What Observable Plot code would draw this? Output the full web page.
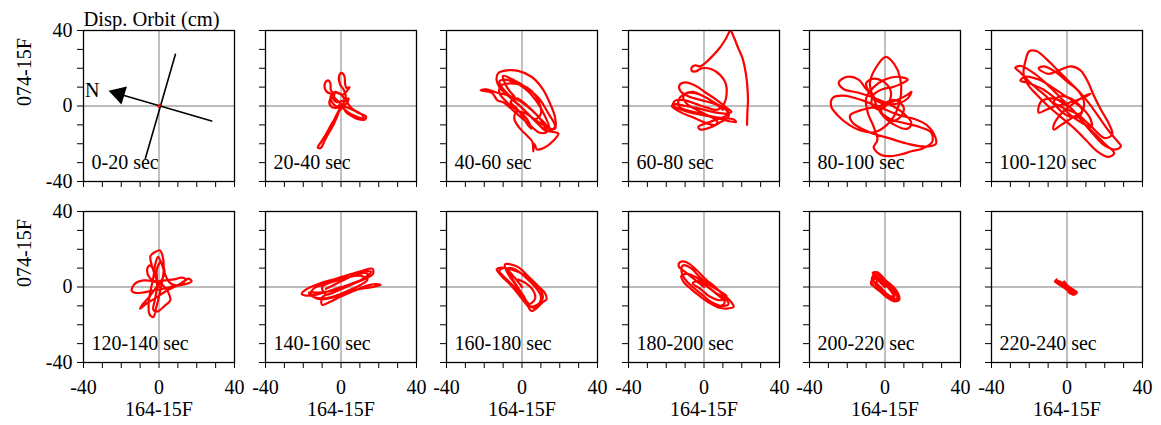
<!DOCTYPE html>
<html><head><meta charset="utf-8">
<script src="https://cdn.jsdelivr.net/npm/d3@7"></script>
<script src="https://cdn.jsdelivr.net/npm/@observablehq/plot@0.6"></script>
<style>
html,body{margin:0;padding:0;background:#fff;overflow:hidden}
#chart{position:relative;width:1161px;height:425px;background:#fff}
#chart svg{position:absolute}
</style></head><body><div id="chart"></div>
<script>
// ---- data ----
const periods = ["0-20 sec","20-40 sec","40-60 sec","60-80 sec","80-100 sec","100-120 sec",
                 "120-140 sec","140-160 sec","160-180 sec","180-200 sec","200-220 sec","220-240 sec"];
const xLabel = "164-15F";
const yLabel = "074-15F";
const title = "Disp. Orbit (cm)";
const tickValues = [-40,-30,-20,-10,0,10,20,30,40];
const labeledTicks = [-40,0,40];

const orbit_000_020 = [[0,0],[0.4,0.5],[-0.3,-0.4],[0.2,-0.2],[0,0]];
const orbit_020_040 = [[0,0],[-1.5,-3],[-3.5,-7],[-5.5,-10.5],[-8,-15],[-10.5,-19],[-12.3,-22],[-10.8,-22.3],[-8.5,-18],[-6,-13.5],[-4,-10],[-2.2,-6],[-0.5,-2],[2,-0.5],[6,-2],[10,-4],[13.3,-5.5],[12.6,-7.2],[8.5,-6.8],[5,-5],[2.5,-3],[0,1],[-3,4],[-5.5,6.5],[-7.5,7.5],[-8.6,9.5],[-8.3,12.5],[-6.8,13.6],[-5.6,12],[-5.4,8.5],[-3.5,5.5],[-6,3],[-5.5,0],[-2.5,-1],[1,1],[2.5,5],[1.5,8.5],[-0.5,11.5],[-1,16],[0.3,17.6],[1.8,15.8],[2.2,11.5],[3,9.5],[4.5,10],[3.5,8.5],[1,6],[-3,7.5],[-5.5,5],[-4.5,1.5],[-1,-0.5],[3,1.5],[4,4],[1.5,3],[-2,2],[-4,4],[-3,7],[0,6],[2.5,3],[6,-1.5],[11,-4.5],[12,-6.5],[8,-5.5],[4,-3.5],[1,-1],[-1,0.5]];
const orbit_040_060 = [[-2,1],[3,-4],[8,-9],[13,-13],[18,-14],[19.3,-14.7],[17,-18],[12,-22],[8,-23],[6.5,-20],[6,-24],[5.5,-19],[3,-16],[-1,-12],[-4,-7],[-3,-3],[2,-4],[8,-8],[15,-12],[17.5,-12],[17.5,-6],[15,1],[11,9],[5,15.5],[-2,18.6],[-8,18.9],[-12.5,17.5],[-13.5,14],[-12,10],[-7,5],[0,-1],[6,-7],[11,-12],[13,-14],[9,-14],[3,-9],[-4,-3],[-10,2],[-13,3],[-16,7],[-21.9,8.3],[-19,8.8],[-13,7],[-7,5.5],[0,2],[6,-3],[11,-8],[14.5,-11.5],[12,-5],[8,2],[3,8],[-3,12],[-9,14],[-12,13],[-10,9],[-5,4],[1,-2],[7,-7],[10,-4],[9,2],[5,8],[0,11],[-6,12],[-11,11],[-12,7],[-8,2],[-3,-2],[2,-6],[5,-12],[3,-10],[0,-5],[-3,-1],[-6,2],[-3,4],[3,0],[9,-6],[14,-13],[17.5,-11],[14,-4],[9,4],[2,10],[-5,14],[-10,16],[-8,10],[-4,5]];
const orbit_060_080 = [[22.8,-10],[23,-3],[23.3,3],[23,10],[22.2,17],[20.5,25],[18,31],[16,36],[14,39.8],[11.5,35.5],[8.5,31],[5,27],[1.5,23.5],[-2,21],[-4.5,21.5],[-6.5,20.5],[-6.5,18.7],[-4.5,18.3],[-1,20],[4,19.5],[8.5,16.5],[11.5,12],[12,6.5],[10.5,1],[7,-2],[2,-1],[-4,1],[-10,3],[-15,3],[-16.5,0.5],[-12,-2],[-5,-4],[3,-5.5],[10,-6.5],[15.5,-7],[17,-8.5],[13,-8],[6,-6],[-2,-4],[-8,-2.5],[-13,-0.5],[-13.5,3],[-11,6],[-6,7.5],[0,5],[6,1.5],[11,-1.5],[13,-4],[10,-6],[3,-8.5],[-3,-11],[-2,-12.5],[3,-11.5],[8,-9],[13,-5.5],[12,-2],[6,1],[-1,3],[-8,5],[-12.5,8],[-13,11],[-10,12.5],[-5,11],[1,7],[7,3],[12,-1],[14.5,-3],[11,-4],[4,-3],[-4,-1],[-10,0],[-15,1],[-17,0],[-13,-3],[-6,-6],[1,-9],[6,-10],[7,-8],[2,-5],[-4,-2],[-9,1],[-11,5],[-8,7],[-2,6],[5,2],[10,-2]];
const orbit_080_100 = [[0,0],[-5,4],[-10,9],[-14,14],[-20,15.5],[-24.5,12.5],[-22,9],[-14,7],[-5,4],[4,0],[10,-4],[14,-9],[12,-12],[5,-10],[-2,-4],[-6,4],[-8,12],[-5,20],[0.5,26],[5,22],[8,15],[8.5,6],[6,-3],[1,-10],[-6,-14],[-13,-13],[-19,-10],[-25,-5],[-28.6,0],[-27.5,4.5],[-22,5.5],[-12,3],[-2,-1],[8,-5],[16,-7],[22,-10],[26,-15],[27,-20],[22,-21.5],[12,-20],[2,-17],[-8,-14],[-17,-9],[-18.5,-5],[-12,-2],[-3,0],[6,3],[12,6],[14,7.5],[12,4],[5,1],[-3,2],[-8,7],[-10,12],[-6,14.5],[-1,13],[3,8],[2,2],[-3,-2],[-7,1],[-6,6],[-1,9],[4,10],[9,12],[12,14],[6,15.5],[0,14],[-6,10],[-10,4],[-9,-4],[-6,-11],[-4,-18],[-6,-22],[-2,-26],[4,-26.5],[9,-25.5],[14,-24],[20,-22.5],[25,-19],[24.4,-14],[18,-11],[10,-9],[3,-7],[-2,-3],[1,2],[6,3],[10,-1],[8,-6],[3,-8],[0,-5]];
const orbit_100_120 = [[0,0],[-6,4],[-13,9],[-20,12],[-24.7,13.5],[-22,15.5],[-15,14],[-8,10],[-2,6],[4,2],[8,-2],[6,-6],[0,-5],[-6,0],[-12,6],[-18,11],[-25,18],[-27.4,20.3],[-24.5,21.2],[-17,17],[-9,10],[-3,4],[3,-2],[9,-9],[15,-15],[20,-20],[25,-25],[22,-27],[16,-24],[10,-18],[4,-12],[-3,-6],[-10,0],[-16,6],[-20.5,11],[-23,17],[-22,24],[-20,29],[-16,29],[-11,25],[-6,20],[1,13],[7,7],[12,1],[17,-6],[22,-13],[27,-19],[28.6,-21.2],[26,-23],[20,-21],[14,-15],[8,-8],[2,-1],[-4,3],[-9,4],[-14,2],[-15,-3.5],[-11,-2],[-6,0],[-1,1],[5,3],[10,5],[12.4,6.5],[9,5],[3,1],[-3,-4],[-7,-10],[-7,-12.5],[-3,-10],[3,-6],[8,-3],[9,2],[6,8],[0,13],[-6,18],[-12,21],[-15,20],[-10,17],[-4,19],[2,21],[7,19],[11,13],[14,6],[18,-2],[22,-9],[24,-15],[20,-17],[12,-10],[5,-4],[-2,-1],[-7,2],[-4,5],[2,4],[7,0],[12,-6],[13,-11],[8,-9],[2,-5],[-3,0]];
const orbit_120_140 = [[0,0],[-2,6],[-4,12],[-4.5,16.5],[-2,18.6],[0.5,19.4],[2,16],[2.5,9],[1.5,2],[0,-5],[-1.5,-11],[-3,-15.9],[-5,-14.5],[-5.5,-9],[-4.5,-2],[-3,5],[-2,12],[-0.5,16],[1.5,12],[3.5,6],[6,2],[11,1],[15.5,4.4],[17.3,3],[14,1.5],[8,0.5],[2,-1],[-4,-2],[-9,-3],[-13,-3],[-14.5,-1.8],[-12.7,1.8],[-8,3.5],[-3,3],[2,1],[5,-3],[6,-7],[3,-10],[-1,-13],[-3,-12],[-2,-6],[-1,1],[-2,8],[-5,11.5],[-6.3,9],[-5,5],[-2,3],[3,3.5],[8,4],[12,5],[14,4],[10,1],[4,-2],[-2,-6],[-7,-9],[-10,-11.5],[-8.5,-9],[-5,-5],[-2,-1],[1,3],[3,8],[1,13],[-1,10],[-1,4]];
const orbit_140_160 = [[0,0],[-6,-2],[-13,-4],[-19,-4.5],[-20.8,-3.5],[-18,-1],[-11,2],[-4,4],[4,6.5],[11,8.5],[16.6,9.7],[17,7],[12,4],[5,1],[-3,-2.5],[-10,-5.5],[-10,-9.5],[-6,-8],[0,-5],[7,-2],[13,0.5],[18.5,1.5],[21,1],[17,0],[10,-1],[3,-3],[-4,-5.5],[-11,-6.5],[-16,-4],[-14,-0.5],[-7,2],[0,4],[7,6],[13,7.5],[15,5.5],[9,3],[2,0.5],[-5,-2],[-12,-3],[-17,-3],[-15,-5],[-8,-6],[-1,-4],[6,-1],[12,2],[14,4],[10,6],[3,5],[-4,3],[-10,0],[-8,-4],[-2,-2],[5,1],[11,4],[16,8],[12,8],[5,5.5],[-2,2],[-8,-1]];
const orbit_160_180 = [[0,0],[-4,5],[-9,10],[-13.4,9.4],[-11,6],[-6,1],[-1,-5],[3,-10],[5,-12.7],[8,-11],[11,-8],[13,-6.5],[12,-3],[8,1],[3,6],[-2,10.5],[-6,12],[-9,12],[-8,8],[-4,2],[0,-4],[3,-9],[6,-11],[9,-9],[10,-5],[7,0],[2,5],[-3,9],[-7,10],[-6,6],[-3,1],[1,-5],[4,-10],[7,-10],[11,-6],[10,-2],[5,3],[0,7],[-5,9],[-10,10],[-12,8.5],[-8,4],[-3,-1],[2,-7],[4,-9],[7,-6],[6,-2],[2,2],[-2,4]];
const orbit_180_200 = [[0,0],[-5,4],[-10,8],[-13.4,11],[-12.5,13.3],[-9,13],[-4,9],[1,4],[6,0],[10,-4],[14,-7.5],[15.7,-10.5],[13,-11.3],[8,-11],[3,-8.5],[-2,-5],[-7,-1],[-11,3],[-12,6],[-9,7],[-4,5],[1,1],[6,-3],[11,-6],[13,-9],[10,-10],[4,-8],[-1,-4],[-6,0],[-10,4],[-12,9],[-11,11.5],[-7,10],[-2,5],[3,1],[8,-2],[12,-5],[9,-7],[3,-5],[-2,-1],[-6,2],[-3,3],[2,0],[7,-4],[11,-8],[9,-10],[5,-9]];
const orbit_200_220 = [[0,0],[-4,4],[-6.5,7.5],[-4,7.8],[-1,5],[2,1],[5,-3],[7.6,-6],[5.8,-7.4],[2.5,-6],[-1,-3],[-5,0],[-7.4,1.5],[-6.5,4],[-3,5],[1,2],[4,-1],[6.5,-4.5],[6,-6.5],[3,-5],[-1,-2],[-5,1.5],[-6.5,5.5],[-4,6.5],[0,3.5],[3,0],[6,-3.5],[7,-6.5],[4,-6.5],[0,-3],[-3.5,0],[-6,3],[-5,5.5],[-2,4],[2,0.5],[5,-2.5],[4,-5],[1,-4],[-2,-1],[-5,2],[-7,4],[-5.5,6.8],[-2.5,6],[1,3],[4.5,0],[7,-3.5],[7.5,-6.8],[4.5,-7.5],[1,-5.5],[-2.5,-2.5],[-6,0.5],[-7.2,3],[-4,4.5],[0,1.5],[3,-2],[5,-5.5],[2,-4.5],[-1.5,-1],[-4.5,2.5],[-3,5],[0.5,2.5],[3.5,-1],[6,-4.5]];
const orbit_220_240 = [[-6,3.5],[-3,2.5],[0,1],[3,-1.5],[5,-3],[4,-4],[1.5,-2.5],[-1.5,-0.5],[-4.5,1.5],[-6.4,3],[-4,2.8],[-1,1.2],[2,-0.5],[4.5,-2.5],[3.5,-3],[1,-1.5],[-2,0.5],[-4,1.5],[-1,0],[0.5,-2],[1.5,-3.5],[0.5,-1],[-0.5,1.5],[-1.5,3],[0,1],[2,-1],[4,-1.8],[5.3,-2.8],[3,-4],[1,-2],[-2,0],[-4.5,2.5],[-5.5,4]];

const orbits = [orbit_000_020, orbit_020_040, orbit_040_060, orbit_060_080, orbit_080_100, orbit_100_120,
                orbit_120_140, orbit_140_160, orbit_160_180, orbit_180_200, orbit_200_220, orbit_220_240];

// sensor orientation (first panel)
const sensorAxisA = [[8.7,27.4],[-7.2,-27.7]];
const sensorAxisN = [[27.9,-8],[-21.2,6.4]];
const northHead = [[-21.2,6.4]];
const northLabel = [{x:-35.4, y:8.2, text:"N"}];

// ---- layout ----
const nCols = 6;
const frameLeft0 = 83, colStep = 181.6, frameTop0 = 30, rowStep = 181;
const mL = 83, mR = 18, mT = 30, mB = 64, frameSize = 151;

const chart = document.getElementById("chart");
const fmtLabel = d => labeledTicks.includes(d) ? String(d) : "";
const fmtNone = () => "";

orbits.forEach((orbit, i) => {
  const row = Math.floor(i / nCols), col = i % nCols;
  const marks = [
    Plot.ruleX([0], {stroke: "#a6a6a6", strokeWidth: 1.4}),
    Plot.ruleY([0], {stroke: "#a6a6a6", strokeWidth: 1.4}),
  ];
  if (i === 0) {
    marks.push(
      Plot.line(sensorAxisA, {x: d => d[0], y: d => d[1], stroke: "black", strokeWidth: 1.6}),
      Plot.line(sensorAxisN, {x: d => d[0], y: d => d[1], stroke: "black", strokeWidth: 1.6}),
      Plot.dot(northHead, {x: d => d[0], y: d => d[1], symbol: "triangle", r: 7, fill: "black", stroke: "none", rotate: -73}),
      Plot.text(northLabel, {x: "x", y: "y", text: "text", fill: "black"}),
      Plot.text([title], {frameAnchor: "top-left", textAnchor: "start", lineAnchor: "bottom", dy: -5, fill: "black", fontSize: 20.5})
    );
  }
  marks.push(
    Plot.line(orbit, {x: d => d[0], y: d => d[1], stroke: "#ff0000", strokeWidth: 2.2, curve: "catmull-rom"}),
    Plot.frame({stroke: "black", strokeWidth: 1.3}),
    Plot.text([periods[i]], {frameAnchor: "bottom-left", textAnchor: "start", lineAnchor: "bottom", dx: 8, dy: -13, fill: "black"})
  );
  if (col === 0) {
    marks.push(Plot.text([yLabel], {frameAnchor: "left", rotate: -90, dx: -59, fill: "black"}));
  }
  if (row === 1) {
    marks.push(Plot.text([xLabel], {frameAnchor: "bottom", dy: 53, fill: "black"}));
  }
  const svg = Plot.plot({
    width: mL + frameSize + mR,
    height: mT + frameSize + mB,
    marginLeft: mL, marginRight: mR, marginTop: mT, marginBottom: mB,
    x: {domain: [-40, 40], ticks: tickValues, tickSize: 6, tickPadding: 11, tickFormat: row === 1 ? fmtLabel : fmtNone, label: null},
    y: {domain: [-40, 40], ticks: tickValues, tickSize: 6, tickPadding: 5, tickFormat: col === 0 ? fmtLabel : fmtNone, label: null},
    style: {fontFamily: "'Liberation Serif', 'Times New Roman', serif", fontSize: "20px", background: "transparent", overflow: "visible", color: "black"},
    marks
  });
  svg.style.position = "absolute";
  svg.style.left = (frameLeft0 + col * colStep - mL) + "px";
  svg.style.top = (frameTop0 + row * rowStep - mT) + "px";
  chart.appendChild(svg);
});
</script></body></html>
